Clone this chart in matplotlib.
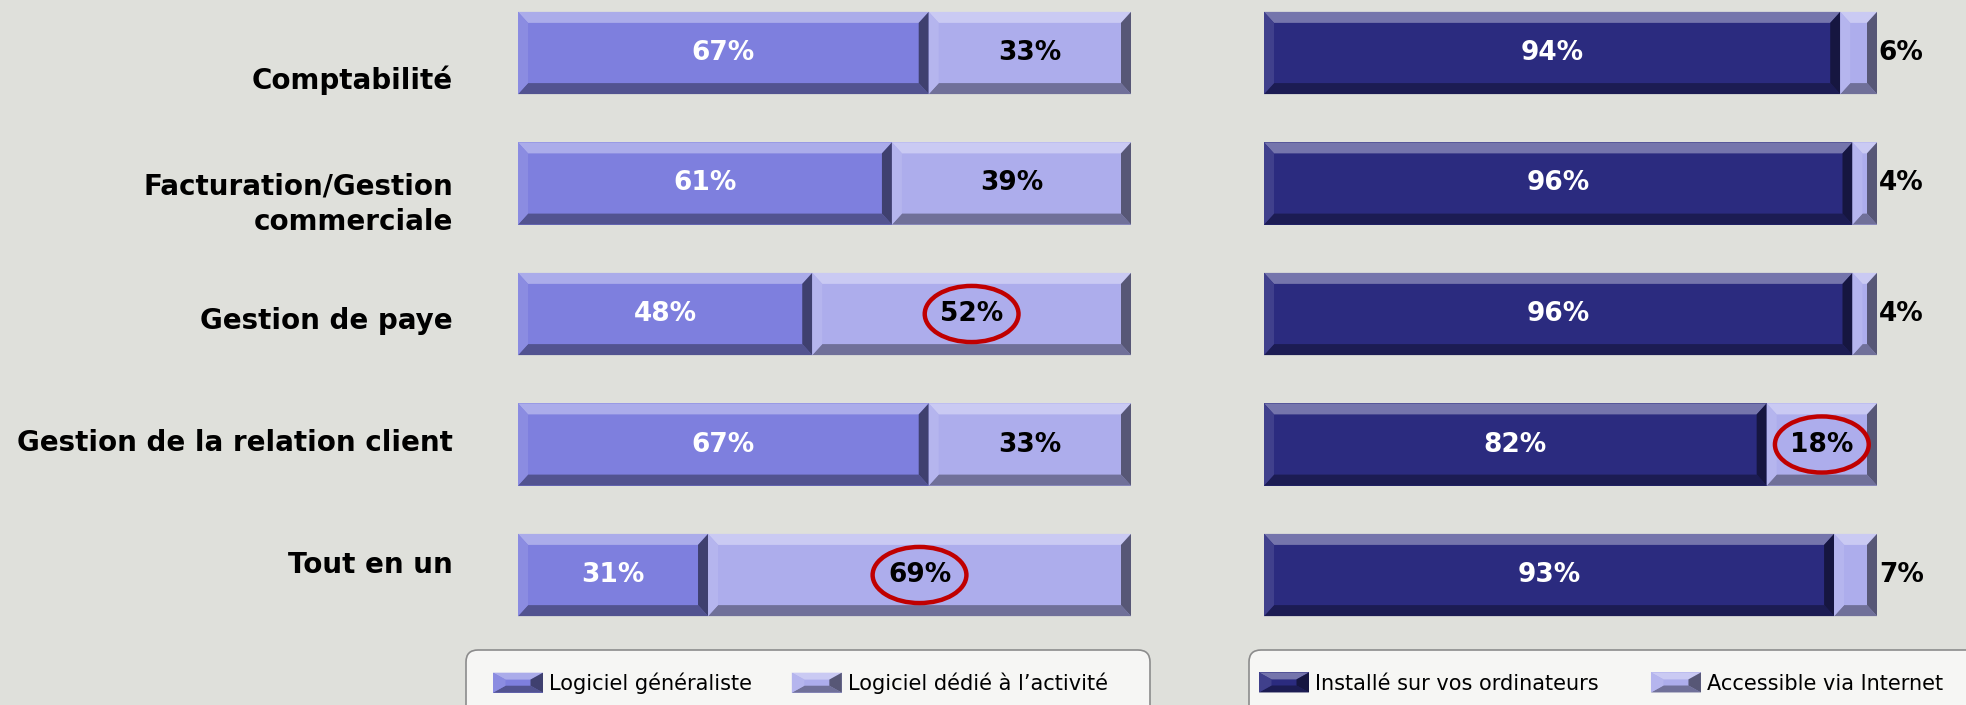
import matplotlib.pyplot as plt
import matplotlib.colors as mcolors
from matplotlib.patches import Polygon, Ellipse, FancyBboxPatch, Patch
from matplotlib.legend_handler import HandlerBase
from matplotlib.transforms import IdentityTransform

# data
categories = ["Comptabilité", "Facturation/Gestion\ncommerciale", "Gestion de paye",
              "Gestion de la relation client", "Tout en un"]
generaliste = [67, 61, 48, 67, 31]
dedie = [33, 39, 52, 33, 69]
installe = [94, 96, 96, 82, 93]
internet = [6, 4, 4, 18, 7]
left_labels = ["Logiciel généraliste", "Logiciel dédié à l’activité"]
right_labels = ["Installé sur vos ordinateurs", "Accessible via Internet"]
# circled values: (series index, row index)
circled_left = [(1, 2), (1, 4)]
circled_right = [(1, 3)]

bg = "#DFE0DB"
c_gen = "#7E7FDE"
c_light = "#ADADEC"
c_inst = "#2B2B7F"

W, H = 1966, 705
fig = plt.figure(figsize=(W / 100, H / 100), dpi=100, facecolor=bg)


def px_axes(x0, x1, top, bottom):
    ax = fig.add_axes([x0 / W, 1 - bottom / H, (x1 - x0) / W, (bottom - top) / H])
    ax.set_xlim(0, 100)
    ax.set_ylim(4.498, -0.406)
    ax.axis("off")
    return ax


axL = px_axes(518, 1131, 0, 640)
axR = px_axes(1264, 1877, 0, 640)

BX = 10 / 6.13   # bevel size in x data units
BY = 11 / 130.5  # bevel size in y data units


def shade(c, f):
    r, g, b = mcolors.to_rgb(c)
    if f > 0:
        return (r + (1 - r) * f, g + (1 - g) * f, b + (1 - b) * f)
    return (r * (1 + f), g * (1 + f), b * (1 + f))


def bevel_polys(x0, yt, w, h, color, bx, by):
    # yt = visual top edge, h/by signed so that yt + h is the visual bottom
    x1, yb = x0 + w, yt + h
    bx = min(bx, w / 2)
    return [
        Polygon([(x0, yt), (x1, yt), (x1 - bx, yt + by), (x0 + bx, yt + by)], color=shade(color, 0.35), lw=0),
        Polygon([(x0, yb), (x1, yb), (x1 - bx, yb - by), (x0 + bx, yb - by)], color=shade(color, -0.35), lw=0),
        Polygon([(x0, yt), (x0 + bx, yt + by), (x0 + bx, yb - by), (x0, yb)], color=shade(color, 0.1), lw=0),
        Polygon([(x1, yt), (x1 - bx, yt + by), (x1 - bx, yb - by), (x1, yb)], color=shade(color, -0.5), lw=0),
    ]


def draw(ax, s1, s2, col1, col2, circled):
    rows = list(range(len(s1)))
    b1 = ax.barh(rows, s1, height=0.63, color=col1, lw=0)
    b2 = ax.barh(rows, s2, left=s1, height=0.63, color=col2, lw=0)
    for bars, col, tcol, vals in [(b1, col1, "white", s1), (b2, col2, "black", s2)]:
        for p, v in zip(bars.patches, vals):
            for poly in bevel_polys(p.get_x(), p.get_y(), p.get_width(), p.get_height(), col, BX, BY):
                ax.add_patch(poly)
            cy = p.get_y() + p.get_height() / 2
            if v < 10:
                ax.text(p.get_x() + p.get_width() + 0.3, cy, f"{v}%", ha="left", va="center",
                        fontsize=19, fontweight="bold", color="black")
            else:
                ax.text(p.get_x() + p.get_width() / 2, cy, f"{v}%", ha="center", va="center",
                        fontsize=19, fontweight="bold", color=tcol)
    allbars = [b1, b2]
    for s, r in circled:
        p = allbars[s].patches[r]
        ax.add_patch(Ellipse((p.get_x() + p.get_width() / 2, p.get_y() + p.get_height() / 2),
                             15.3, 0.43, fill=False, ec="#C00000", lw=3.2))


draw(axL, generaliste, dedie, c_gen, c_light, circled_left)
draw(axR, installe, internet, c_inst, c_light, circled_right)

label_dy = [27, 21, 7, -2, -10]  # pixel offsets of category labels
for i, (cat, dy) in enumerate(zip(categories, label_dy)):
    axL.text(-10.6, i + dy / 130.5, cat, ha="right", va="center", multialignment="right",
             fontsize=20, fontweight="bold", color="black", linespacing=1.35)


class BevelHandler(HandlerBase):
    def create_artists(self, legend, orig_handle, xdescent, ydescent, width, height, fontsize, trans):
        col = orig_handle.get_facecolor()
        x0, y0 = -xdescent, -ydescent
        polys = [Polygon([(x0, y0), (x0 + width, y0), (x0 + width, y0 + height), (x0, y0 + height)],
                         color=col, lw=0)]
        polys += bevel_polys(x0, y0 + height, width, -height, col, 9, -5)
        for p in polys:
            p.set_transform(trans)
        return polys


def legend_box(x0, x1, top, bottom, handles, labels, hx, colsp):
    box = FancyBboxPatch((x0, H - bottom), x1 - x0, bottom - top,
                         boxstyle="round,pad=0,rounding_size=12", transform=IdentityTransform(),
                         fc="#F6F6F4", ec="#8C8C8C", lw=1.2)
    fig.add_artist(box)
    fig.legend(handles=handles, labels=labels, loc="center left",
               bbox_to_anchor=(hx / W, 1 - 683 / H), ncol=2, frameon=False, fontsize=15,
               handlelength=2.4, handleheight=1.1, handletextpad=0.3, columnspacing=colsp,
               borderpad=0, borderaxespad=0, handler_map={Patch: BevelHandler()})


legend_box(466, 1150, 650, 722, [Patch(fc=c_gen), Patch(fc=c_light)], left_labels, 493, 1.9)
legend_box(1249, 2000, 650, 722, [Patch(fc=c_inst), Patch(fc=c_light)], right_labels, 1259, 2.5)

fig.savefig("out.png", dpi=100, facecolor=bg)
